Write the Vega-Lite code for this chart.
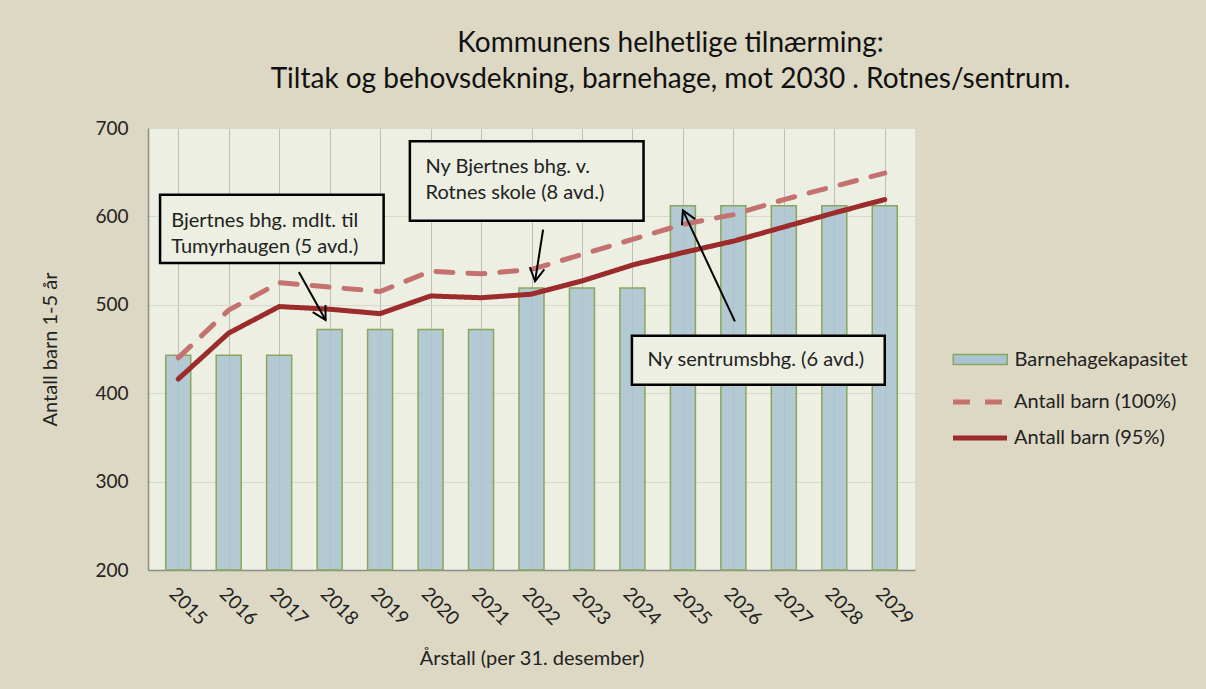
{
  "$schema": "https://vega.github.io/schema/vega-lite/v6.json",
  "width": 767,
  "height": 442,
  "autosize": {"type": "none"},
  "padding": {"left": 148, "top": 128, "right": 291, "bottom": 119},
  "background": "#DDD8C3",
  "config": {
    "font": "Lato",
    "view": {"fill": "#ECEFE1", "stroke": null},
    "axis": {"labelFont": "Lato", "titleFont": "Lato", "labelColor": "#222222", "titleColor": "#222222", "titleFontWeight": "normal"}
  },
  "title": {
    "text": ["Kommunens  helhetlige tilnærming:", "Tiltak og behovsdekning,  barnehage, mot 2030 . Rotnes/sentrum."],
    "font": "Lato",
    "fontSize": 28,
    "fontWeight": "normal",
    "color": "#111111",
    "anchor": "middle",
    "frame": "group",
    "dx": 139,
    "offset": 25,
    "lineHeight": 36
  },
  "datasets": {
    "bars": [
      {"year": 2015, "value": 443}, {"year": 2016, "value": 443}, {"year": 2017, "value": 443},
      {"year": 2018, "value": 472}, {"year": 2019, "value": 472}, {"year": 2020, "value": 472}, {"year": 2021, "value": 472},
      {"year": 2022, "value": 519}, {"year": 2023, "value": 519}, {"year": 2024, "value": 519},
      {"year": 2025, "value": 612}, {"year": 2026, "value": 612}, {"year": 2027, "value": 612}, {"year": 2028, "value": 612}, {"year": 2029, "value": 612}
    ],
    "lines": [
      {"year": 2015, "series": "Antall barn (100%)", "value": 440},
      {"year": 2016, "series": "Antall barn (100%)", "value": 494},
      {"year": 2017, "series": "Antall barn (100%)", "value": 525},
      {"year": 2018, "series": "Antall barn (100%)", "value": 520},
      {"year": 2019, "series": "Antall barn (100%)", "value": 515},
      {"year": 2020, "series": "Antall barn (100%)", "value": 538},
      {"year": 2021, "series": "Antall barn (100%)", "value": 535},
      {"year": 2022, "series": "Antall barn (100%)", "value": 540},
      {"year": 2023, "series": "Antall barn (100%)", "value": 557},
      {"year": 2024, "series": "Antall barn (100%)", "value": 574},
      {"year": 2025, "series": "Antall barn (100%)", "value": 591},
      {"year": 2026, "series": "Antall barn (100%)", "value": 602},
      {"year": 2027, "series": "Antall barn (100%)", "value": 619},
      {"year": 2028, "series": "Antall barn (100%)", "value": 634},
      {"year": 2029, "series": "Antall barn (100%)", "value": 649},
      {"year": 2015, "series": "Antall barn (95%)", "value": 416},
      {"year": 2016, "series": "Antall barn (95%)", "value": 468},
      {"year": 2017, "series": "Antall barn (95%)", "value": 498},
      {"year": 2018, "series": "Antall barn (95%)", "value": 495},
      {"year": 2019, "series": "Antall barn (95%)", "value": 490},
      {"year": 2020, "series": "Antall barn (95%)", "value": 510},
      {"year": 2021, "series": "Antall barn (95%)", "value": 508},
      {"year": 2022, "series": "Antall barn (95%)", "value": 512},
      {"year": 2023, "series": "Antall barn (95%)", "value": 527},
      {"year": 2024, "series": "Antall barn (95%)", "value": 545},
      {"year": 2025, "series": "Antall barn (95%)", "value": 559},
      {"year": 2026, "series": "Antall barn (95%)", "value": 572},
      {"year": 2027, "series": "Antall barn (95%)", "value": 588},
      {"year": 2028, "series": "Antall barn (95%)", "value": 604},
      {"year": 2029, "series": "Antall barn (95%)", "value": 619}
    ],
    "boxes": [
      {"year": 2014.64, "year2": 2019.07, "value": 624.5, "value2": 547.3},
      {"year": 2019.59, "year2": 2024.22, "value": 685, "value2": 595.1},
      {"year": 2023.99, "year2": 2029.0, "value": 465.1, "value2": 409.6}
    ],
    "notes": [
      {"year": 2014.86, "value": 594.5, "label": "Bjertnes bhg. mdlt. til\nTumyrhaugen (5 avd.)"},
      {"year": 2019.9, "value": 656.2, "label": "Ny Bjertnes  bhg. v.\nRotnes skole  (8 avd.)"},
      {"year": 2024.3, "value": 437.6, "label": "Ny sentrumsbhg. (6 avd.)"}
    ],
    "arrows": [
      {"id": 1, "year": 2017.92, "value": 482.8, "year2": 2017.39, "value2": 537.1},
      {"id": 2, "year": 2022.07, "value": 526.6, "year2": 2022.23, "value2": 585},
      {"id": 3, "year": 2025.0, "value": 606.9, "year2": 2026.03, "value2": 481.3}
    ]
  },
  "encoding": {
    "x": {
      "field": "year",
      "type": "quantitative",
      "scale": {"domain": [2014.5, 2029.5], "nice": false, "zero": false},
      "axis": {
        "title": "Årstall (per 31. desember)",
        "titleFontSize": 20,
        "titlePadding": 20,
        "values": [2015, 2016, 2017, 2018, 2019, 2020, 2021, 2022, 2023, 2024, 2025, 2026, 2027, 2028, 2029],
        "format": "d",
        "labelAngle": 45,
        "labelAlign": "left",
        "labelBaseline": "top",
        "labelPadding": 14,
        "labelFontSize": 19,
        "labelFlush": false,
        "labelOverlap": false,
        "ticks": false,
        "grid": true,
        "gridColor": "#BEBEBE",
        "gridWidth": 1,
        "domainColor": "#8C8C8C",
        "domainWidth": 1.5
      }
    },
    "y": {
      "field": "value",
      "type": "quantitative",
      "scale": {"domain": [200, 700], "nice": false, "zero": false},
      "axis": {
        "title": "Antall barn 1-5 år",
        "titleFontSize": 20,
        "titlePadding": 34,
        "values": [200, 300, 400, 500, 600, 700],
        "labelFontSize": 19,
        "labelPadding": 20,
        "ticks": false,
        "grid": true,
        "gridColor": "#D6DACA",
        "gridWidth": 1,
        "domainColor": "#8C8C8C",
        "domainWidth": 1.5
      }
    }
  },
  "layer": [
    {
      "data": {"name": "bars"},
      "mark": {"type": "bar", "width": 25, "stroke": "#8BA65A", "strokeWidth": 1.5, "fillOpacity": 0.85},
      "encoding": {
        "y2": {"datum": 200},
        "fill": {
          "datum": "Barnehagekapasitet",
          "type": "nominal",
          "scale": {"domain": ["Barnehagekapasitet"], "range": ["#A9C3D2"]},
          "legend": {
            "title": null,
            "orient": "none",
            "legendX": 817.75,
            "legendY": 217,
            "padding": 0,
            "labelFont": "Lato",
            "labelFontSize": 20,
            "labelColor": "#222222",
            "labelOffset": 19.75,
            "labelLimit": 300,
            "symbolType": "M -2 -0.37 H 2 V 0.37 H -2 Z",
            "symbolSize": 729,
            "symbolStrokeColor": "#8BA65A",
            "symbolStrokeWidth": 1.5,
            "symbolOpacity": 1
          }
        }
      }
    },
    {
      "data": {"name": "lines"},
      "mark": {"type": "line", "strokeWidth": 5, "strokeCap": "round", "strokeJoin": "round"},
      "encoding": {
        "stroke": {
          "field": "series",
          "type": "nominal",
          "scale": {"domain": ["Antall barn (100%)", "Antall barn (95%)"], "range": ["#C4726F", "#9C2B2C"]},
          "legend": {
            "title": null,
            "orient": "none",
            "legendX": 816,
            "legendY": 258,
            "padding": 0,
            "labelFont": "Lato",
            "labelFontSize": 20,
            "labelColor": "#222222",
            "labelOffset": 18,
            "labelLimit": 300,
            "symbolType": "M -2 0 H 2",
            "symbolSize": 729,
            "symbolStrokeWidth": 5,
            "symbolOpacity": 1,
            "rowPadding": 10
          }
        },
        "strokeDash": {
          "field": "series",
          "type": "nominal",
          "scale": {"domain": ["Antall barn (100%)", "Antall barn (95%)"], "range": [[17, 15], [1, 0]]},
          "legend": {
            "title": null,
            "orient": "none",
            "legendX": 816,
            "legendY": 258,
            "padding": 0,
            "labelFont": "Lato",
            "labelFontSize": 20,
            "labelColor": "#222222",
            "labelOffset": 18,
            "labelLimit": 300,
            "symbolType": "M -2 0 H 2",
            "symbolSize": 729,
            "symbolStrokeWidth": 5,
            "symbolOpacity": 1,
            "rowPadding": 10
          }
        }
      }
    },
    {
      "data": {"name": "boxes"},
      "mark": {"type": "rect", "fill": "#ECEFE1", "stroke": "#000000", "strokeWidth": 2.5},
      "encoding": {
        "x2": {"field": "year2"},
        "y2": {"field": "value2"}
      }
    },
    {
      "data": {"name": "notes"},
      "mark": {"type": "text", "align": "left", "baseline": "middle", "lineBreak": "\n", "lineHeight": 26, "font": "Lato", "fontSize": 20, "color": "#222222"},
      "encoding": {
        "text": {"field": "label", "type": "nominal"}
      }
    },
    {
      "data": {"name": "arrows"},
      "mark": {"type": "rule", "color": "#000000", "strokeWidth": 2},
      "encoding": {
        "x2": {"field": "year2"},
        "y2": {"field": "value2"}
      }
    },
    {
      "data": {"name": "arrows"},
      "transform": [{"filter": "datum.id === 1"}],
      "mark": {"type": "point", "shape": "M -0.55 1 L 0 0 L 0.55 1", "size": 700, "filled": false, "stroke": "#000000", "strokeWidth": 2, "opacity": 1, "angle": 150.6},
      "encoding": {}
    },
    {
      "data": {"name": "arrows"},
      "transform": [{"filter": "datum.id === 2"}],
      "mark": {"type": "point", "shape": "M -0.55 1 L 0 0 L 0.55 1", "size": 700, "filled": false, "stroke": "#000000", "strokeWidth": 2, "opacity": 1, "angle": 189.1},
      "encoding": {}
    },
    {
      "data": {"name": "arrows"},
      "transform": [{"filter": "datum.id === 3"}],
      "mark": {"type": "point", "shape": "M -0.55 1 L 0 0 L 0.55 1", "size": 700, "filled": false, "stroke": "#000000", "strokeWidth": 2, "opacity": 1, "angle": 334.8},
      "encoding": {}
    }
  ]
}
